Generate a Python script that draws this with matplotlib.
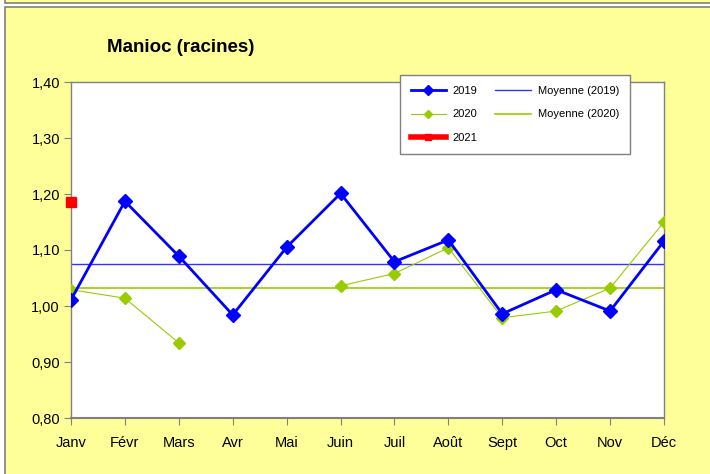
import numpy as np
import matplotlib.pyplot as plt
from matplotlib.patches import Rectangle
from matplotlib import font_manager

# police étroite si disponible (style Arial Narrow)
names = {f.name for f in font_manager.fontManager.ttflist}
narrow = 'Liberation Sans Narrow' if 'Liberation Sans Narrow' in names else 'Liberation Sans'
plt.rcParams['font.family'] = [narrow, 'DejaVu Sans']

mois = ['Janv', 'Févr', 'Mars', 'Avr', 'Mai', 'Juin', 'Juil', 'Août', 'Sept', 'Oct', 'Nov', 'Déc']
v2019 = [1.011, 1.187, 1.089, 0.984, 1.105, 1.201, 1.079, 1.118, 0.986, 1.029, 0.991, 1.116]
v2020 = [1.029, 1.014, 0.934, np.nan, np.nan, 1.036, 1.058, 1.104, 0.979, 0.991, 1.032, 1.150]
v2021 = [1.186]

W, H = 710, 474
fig = plt.figure(figsize=(W / 100, H / 100), dpi=100, facecolor='white')

# cadres jaunes du tableau de bord
fig.patches.append(Rectangle((5 / W, 1 - 3 / H), 1, 0.02, transform=fig.transFigure,
                             facecolor='#FFFF99', edgecolor='#808080', lw=1.2, zorder=-10))
fig.patches.append(Rectangle((5 / W, -0.02), 1, 1 - 7 / H + 0.02, transform=fig.transFigure,
                             facecolor='#FFFF99', edgecolor='#808080', lw=1.2, zorder=-10))

ax = fig.add_axes([71 / W, 1 - 418 / H, (664 - 71) / W, (418 - 82) / H])
ax.set_facecolor('white')
x = np.arange(len(mois))

ax.plot(x, v2019, color='#0000FF', lw=2, marker='D', ms=7, label='2019', zorder=4)
ax.plot(x, v2020, color='#99CC00', lw=0.8, marker='D', ms=6, label='2020', zorder=3)
ax.plot(x[:len(v2021)], v2021, color='#FF0000', lw=4, marker='s', ms=7, label='2021',
        clip_on=False, zorder=5)
ax.axhline(np.nanmean(v2019), color='#3333FF', lw=1, label='Moyenne (2019)', zorder=2)
ax.axhline(np.nanmean(v2020), color='#99CC00', lw=1.2, label='Moyenne (2020)', zorder=2)

ax.set_xlim(0, 11)
ax.set_ylim(0.80, 1.40)
ax.set_xticks(x)
ax.set_xticklabels(mois, fontsize=10.5)
yt = np.arange(0.80, 1.401, 0.10)
ax.set_yticks(yt)
ax.set_yticklabels([f'{v:.2f}'.replace('.', ',') for v in yt], fontsize=10.5)
ax.tick_params(direction='out', length=5, color='#808080', pad=8)
ax.tick_params(axis='y', pad=3)
for s in ax.spines.values():
    s.set_color('#808080')
    s.set_linewidth(1)
ax.spines['bottom'].set_linewidth(1.5)

fig.text(107 / W, 1 - 48 / H, 'Manioc (racines)', fontsize=13.5, fontweight='bold', va='center')

leg = ax.legend(ncol=2, loc='upper left', bbox_to_anchor=(400 / W, 1 - 75 / H),
                bbox_transform=fig.transFigure, borderaxespad=0, fontsize=8, frameon=True,
                fancybox=False, edgecolor='#808080', framealpha=1, handlelength=3.2,
                handletextpad=0.6, columnspacing=1.6, labelspacing=1.25, borderpad=0.95,
                markerscale=0.7)
leg.get_frame().set_linewidth(1)

fig.savefig('out.png', dpi=100, facecolor=fig.get_facecolor())
